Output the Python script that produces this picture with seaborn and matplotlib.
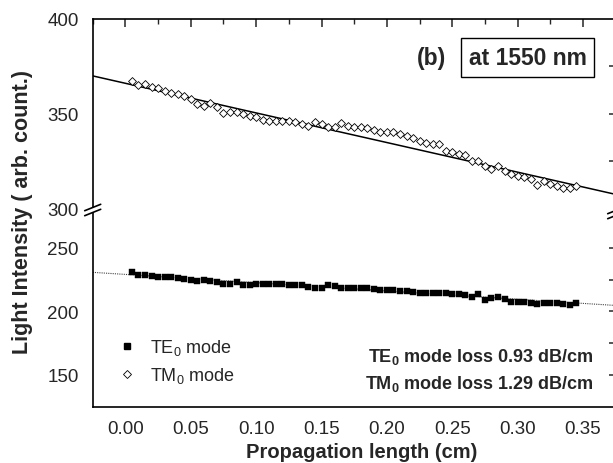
import numpy as np
import pandas as pd
import matplotlib
matplotlib.use("Agg")
import matplotlib.pyplot as plt
import seaborn as sns
from matplotlib.lines import Line2D
from matplotlib.patches import Polygon

# ---------------- data ----------------
length_cm = [0.005, 0.010, 0.015, 0.020, 0.025, 0.030, 0.035, 0.040, 0.045, 0.050,
             0.055, 0.060, 0.065, 0.070, 0.075, 0.080, 0.085, 0.090, 0.095, 0.100,
             0.105, 0.110, 0.115, 0.120, 0.125, 0.130, 0.135, 0.140, 0.145, 0.150,
             0.155, 0.160, 0.165, 0.170, 0.175, 0.180, 0.185, 0.190, 0.195, 0.200,
             0.205, 0.210, 0.215, 0.220, 0.225, 0.230, 0.235, 0.240, 0.245, 0.250,
             0.255, 0.260, 0.265, 0.270, 0.275, 0.280, 0.285, 0.290, 0.295, 0.300,
             0.305, 0.310, 0.315, 0.320, 0.325, 0.330, 0.335, 0.340, 0.345]

tm0_intensity = [367.0, 365.0, 365.5, 364.0, 363.5, 362.0, 361.0, 360.5, 359.5, 357.5,
                 355.0, 354.0, 355.5, 353.5, 350.5, 351.0, 351.0, 349.5, 348.5, 348.0,
                 346.5, 346.0, 346.0, 346.0, 346.2, 345.3, 344.2, 343.6, 345.5, 344.4,
                 342.7, 342.7, 344.8, 343.6, 343.0, 342.7, 342.2, 341.4, 340.4, 340.0,
                 340.4, 339.2, 337.9, 336.9, 335.6, 334.6, 333.9, 333.9, 330.3, 329.5,
                 328.6, 328.0, 325.0, 325.0, 322.4, 320.6, 322.4, 319.8, 318.0, 317.1,
                 316.2, 315.3, 312.1, 314.5, 312.7, 311.8, 310.4, 310.4, 311.8]

te0_intensity = [231.2, 228.6, 228.6, 228.0, 227.2, 227.2, 227.2, 226.0, 225.4, 224.9,
                 224.1, 224.9, 224.1, 222.8, 221.4, 222.0, 223.3, 221.0, 221.2, 221.4,
                 221.4, 221.4, 221.4, 221.4, 221.0, 220.9, 220.9, 219.6, 218.8, 218.8,
                 220.9, 220.1, 218.8, 218.8, 218.8, 218.3, 218.3, 218.0, 216.9, 216.9,
                 216.9, 216.1, 216.1, 215.6, 214.8, 214.5, 214.3, 214.3, 214.3, 213.5,
                 213.5, 212.7, 211.7, 213.5, 209.1, 210.9, 211.7, 209.5, 207.7, 207.7,
                 207.7, 206.9, 205.6, 206.9, 206.9, 206.9, 206.1, 204.8, 206.3]

fit_x = [-0.025, 0.375]
fit_tm0 = [369.9, 307.2]
fit_te0 = [230.8, 204.7]

x_ticks = [0.00, 0.05, 0.10, 0.15, 0.20, 0.25, 0.30, 0.35]
upper_ticks = [300, 350, 400]
lower_ticks = [150, 200, 250]

df = pd.DataFrame({"x": length_cm, "TM": tm0_intensity, "TE": te0_intensity})
fit_df = pd.DataFrame({"x": fit_x, "TM": fit_tm0, "TE": fit_te0})

# ---------------- style ----------------
sns.set_style("white")
plt.rcParams["font.family"] = ["Liberation Sans", "DejaVu Sans"]
plt.rcParams["mathtext.fontset"] = "custom"
plt.rcParams["mathtext.rm"] = "Liberation Sans"
plt.rcParams["mathtext.bf"] = "Liberation Sans:bold"
plt.rcParams["mathtext.default"] = "rm"

W, H = 613, 464
fig = plt.figure(figsize=(W / 100, H / 100), dpi=100)

def fx(px):
    return px / W

def fy(py):
    return 1 - py / H

left_px, right_px = 92.7, 615.7
top_px, brk_px, bot_px = 20.0, 209.0, 407.6

ax_up = fig.add_axes([fx(left_px), fy(brk_px), fx(right_px) - fx(left_px), fy(top_px) - fy(brk_px)])
ax_lo = fig.add_axes([fx(left_px), fy(bot_px), fx(right_px) - fx(left_px), fy(brk_px) - fy(bot_px)])

# ---------------- marks ----------------
sns.lineplot(data=fit_df, x="x", y="TM", ax=ax_up, color="black", linewidth=1.1, zorder=2)
sns.scatterplot(data=df, x="x", y="TM", ax=ax_up, marker="D", s=16, color="white",
                edgecolor="black", linewidth=0.6, zorder=3)

sns.lineplot(data=fit_df, x="x", y="TE", ax=ax_lo, color="#444444", linewidth=0.8,
             linestyle=(0, (1, 1)), zorder=2)
sns.scatterplot(data=df, x="x", y="TE", ax=ax_lo, marker="s", s=14, color="black",
                edgecolor="black", linewidth=0.3, zorder=3)

# ---------------- axes ----------------
for ax in (ax_up, ax_lo):
    ax.set_xlim(-0.025, 0.375)
    ax.set_xlabel("")
    ax.set_ylabel("")
    for s in ax.spines.values():
        s.set_linewidth(1.2)
        s.set_color("black")
    ax.spines["right"].set_visible(False)

ax_up.set_ylim(300, 400)
ax_lo.set_ylim(125, 281.5)

ax_up.spines["bottom"].set_visible(False)
ax_lo.spines["top"].set_visible(False)

minor_x = [-0.025, 0.025, 0.075, 0.125, 0.175, 0.225, 0.275, 0.325, 0.375]

# upper axes: left ticks outward, top ticks inward
ax_up.set_yticks(upper_ticks)
ax_up.set_yticks([325, 375], minor=True)
ax_up.tick_params(axis="y", which="major", direction="out", length=6, width=1.1,
                  labelsize=13.5, pad=4, right=False)
ax_up.tick_params(axis="y", which="minor", direction="out", length=3.5, width=1.0, right=False)
ax_up.set_xticks(x_ticks)
ax_up.set_xticks(minor_x, minor=True)
ax_up.tick_params(axis="x", which="both", bottom=False, top=True, labelbottom=False,
                  direction="in")
ax_up.tick_params(axis="x", which="major", length=6, width=1.1)
ax_up.tick_params(axis="x", which="minor", length=3.5, width=1.0)

sec_up = ax_up.secondary_yaxis("right")
sec_up.set_yticks([325, 350, 375])
sec_up.tick_params(direction="in", length=5, width=1.1, labelright=False)
sec_up.spines["right"].set_linewidth(1.2)

# lower axes
ax_lo.set_yticks(lower_ticks)
ax_lo.set_yticks([175, 225], minor=True)
ax_lo.tick_params(axis="y", which="major", direction="out", length=6, width=1.1,
                  labelsize=13.5, pad=4, right=False)
ax_lo.tick_params(axis="y", which="minor", direction="out", length=3.5, width=1.0, right=False)
ax_lo.set_xticks(x_ticks)
ax_lo.set_xticklabels([f"{v:.2f}" for v in x_ticks])
ax_lo.set_xticks(minor_x, minor=True)
ax_lo.tick_params(axis="x", which="major", direction="out", length=6, width=1.1,
                  labelsize=13.5, pad=4, top=False)
ax_lo.tick_params(axis="x", which="minor", direction="out", length=3.5, width=1.0, top=False)

sec_lo = ax_lo.secondary_yaxis("right")
sec_lo.set_yticks([150, 175, 200, 225, 250])
sec_lo.tick_params(direction="in", length=5, width=1.1, labelright=False)
sec_lo.spines["right"].set_linewidth(1.2)

# axis labels
fig.text(fx(362), fy(453), "Propagation length (cm)", ha="center", va="center",
         fontsize=14.5, fontweight="bold")
fig.text(fx(23), fy(212), "Light Intensity ( arb. count.)", ha="center", va="center",
         rotation=90, fontsize=15.5, fontweight="bold")

# axis break marks
def break_mark(cx, cy):
    dx, dy, gap = 8.0, 3.2, 5.0
    poly = Polygon([(fx(cx - dx), fy(cy + dy - gap / 2)), (fx(cx + dx), fy(cy - dy - gap / 2)),
                    (fx(cx + dx), fy(cy - dy + gap / 2)), (fx(cx - dx), fy(cy + dy + gap / 2))],
                   closed=True, transform=fig.transFigure, facecolor="white",
                   edgecolor="none", zorder=10, clip_on=False)
    fig.add_artist(poly)
    for off in (-gap / 2, gap / 2):
        fig.add_artist(Line2D([fx(cx - dx), fx(cx + dx)], [fy(cy + dy + off), fy(cy - dy + off)],
                              transform=fig.transFigure, color="black", linewidth=1.2,
                              zorder=11, clip_on=False))

break_mark(left_px, 211)
break_mark(right_px, 214)

# panel annotations
fig.text(fx(431), fy(59), "(b)", ha="center", va="center", fontsize=16.5, fontweight="bold")
fig.text(fx(527.5), fy(58.5), "at 1550 nm", ha="center", va="center", fontsize=16.5,
         fontweight="bold",
         bbox=dict(boxstyle="square,pad=0.35", facecolor="white", edgecolor="black", linewidth=1.0))

# legend
handles = [Line2D([], [], linestyle="none", marker="s", markersize=4.2, color="black"),
           Line2D([], [], linestyle="none", marker="D", markersize=4.0,
                  markerfacecolor="white", markeredgecolor="black", markeredgewidth=0.6)]
ax_lo.legend(handles, ["TE$_0$ mode", "TM$_0$ mode"], loc="upper left",
             bbox_to_anchor=(fx(118), fy(338)), bbox_transform=fig.transFigure,
             frameon=False, fontsize=13, handlelength=1.0, handletextpad=0.75,
             labelspacing=0.45, borderpad=0.0, borderaxespad=0.0)

# loss text
fig.text(fx(594), fy(357), r"$\mathbf{TE_0}$ mode loss 0.93 dB/cm", ha="right", va="center",
         fontsize=13, fontweight="bold")
fig.text(fx(594), fy(384), r"$\mathbf{TM_0}$ mode loss 1.29 dB/cm", ha="right", va="center",
         fontsize=13, fontweight="bold")

fig.savefig("out.png", dpi=100)
